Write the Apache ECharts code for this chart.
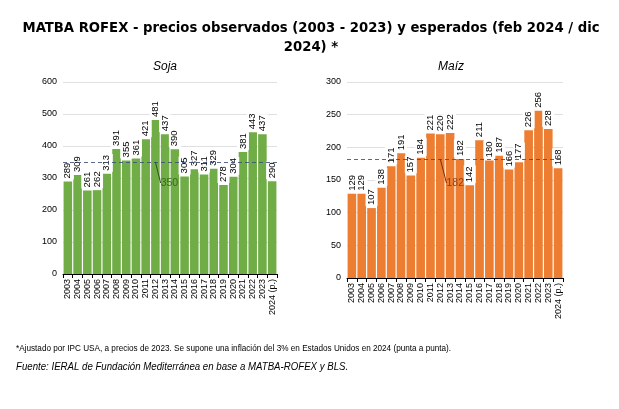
<!DOCTYPE html>
<html><head><meta charset="utf-8">
<script src="https://cdn.jsdelivr.net/npm/echarts@6/dist/echarts.min.js"></script>
<style>html,body{margin:0;padding:0;background:#fff}#c{width:619px;height:409px}</style>
</head><body><div id="c"></div>
<script>
const years = ['2003','2004','2005','2006','2007','2008','2009','2010','2011','2012','2013','2014','2015','2016','2017','2018','2019','2020','2021','2022','2023','2024 (p.)'];
const soja = [289,309,261,262,313,391,355,361,421,481,437,390,305,327,311,329,278,304,381,443,437,290];
const maiz = [129,129,107,138,171,191,157,184,221,220,222,182,142,211,180,187,166,177,226,256,228,168];
const sojaAvg = 350;
const maizAvg = 182;
const avgAnchorYear = '2012';

const chart = echarts.init(document.getElementById('c'));
const FONT = 'Liberation Sans';
function xAxis(gi){
  return {type:'category', gridIndex:gi, data:years,
    axisLine:{lineStyle:{color:'#000',width:1}},
    axisTick:{show:true,interval:0,length:4,lineStyle:{color:'#000'}},
    axisLabel:{rotate:90,interval:0,fontSize:9,color:'#000',fontFamily:FONT,margin:5}};
}
function yAxis(gi,max,interval){
  return {type:'value', gridIndex:gi, min:0, max:max, interval:interval,
    axisLine:{show:false}, axisTick:{show:false},
    splitLine:{lineStyle:{color:'#e0e0e0'}},
    axisLabel:{fontSize:9,color:'#000',fontFamily:FONT,margin:6}};
}
function bars(gi,data,color,avg,lineColor){
  return {type:'bar', xAxisIndex:gi, yAxisIndex:gi, data:data, barCategoryGap:'12%',
    itemStyle:{color:color},
    label:{show:true, position:'top', rotate:90, align:'left', verticalAlign:'middle', distance:2,
      fontSize:9.5, color:'#000', fontFamily:FONT, backgroundColor:'#fff', padding:[1,1,1,1]},
    markLine:{silent:true, symbol:'none', z:5,
      lineStyle:{color:lineColor,type:[4,3],width:1.2,opacity:0.85},
      label:{show:false}, data:[{yAxis:avg}]}};
}
function avgLabel(gi,avg,color,dx,dy){
  return {type:'scatter', xAxisIndex:gi, yAxisIndex:gi, symbolSize:0, z:10,
    data:[[avgAnchorYear,avg]],
    label:{show:true, position:'inside', formatter:'{@[1]}', fontSize:10.5, color:color, fontFamily:FONT},
    labelLayout:{dx:dx,dy:dy},
    labelLine:{show:true, lineStyle:{color:color,width:1}}};
}
chart.setOption({
  animation:false,
  title:[
    {text:'MATBA ROFEX - precios observados (2003 - 2023) y esperados (feb 2024 / dic\n2024) *',
      left:306, top:14, textAlign:'center',
      textStyle:{fontSize:14.7,fontWeight:'bold',color:'#000',fontFamily:'DejaVu Sans Condensed',lineHeight:19}},
    {text:'Soja', left:160, top:56, textAlign:'center',
      textStyle:{fontSize:12,fontStyle:'italic',fontWeight:'normal',color:'#000',fontFamily:FONT}},
    {text:'Maíz', left:446, top:56, textAlign:'center',
      textStyle:{fontSize:12,fontStyle:'italic',fontWeight:'normal',color:'#000',fontFamily:FONT}}
  ],
  grid:[
    {left:63, right:342, top:82, bottom:135},
    {left:347, right:56, top:82, bottom:131}
  ],
  xAxis:[xAxis(0), xAxis(1)],
  yAxis:[yAxis(0,600,100), yAxis(1,300,50)],
  series:[
    bars(0,soja,'#70ad47',sojaAvg,'#3b4f7a'),
    bars(1,maiz,'#ed7d31',maizAvg,'#3b4f7a'),
    avgLabel(0,sojaAvg,'#2e5318',14,21),
    avgLabel(1,maizAvg,'#7a2e0a',15,24)
  ],
  graphic:[
    {type:'text', left:16, top:343, scaleX:0.86, style:{text:'*Ajustado por IPC USA, a precios de 2023. Se supone una inflación del 3% en Estados Unidos en 2024 (punta a punta).',
      font:'9.5px "Liberation Sans"', fill:'#000'}},
    {type:'text', left:16, top:361, scaleX:0.84, style:{text:'Fuente: IERAL de Fundación Mediterránea en base a MATBA-ROFEX y BLS.',
      font:'italic 11.5px "Liberation Sans"', fill:'#000'}}
  ]
});
</script></body></html>
